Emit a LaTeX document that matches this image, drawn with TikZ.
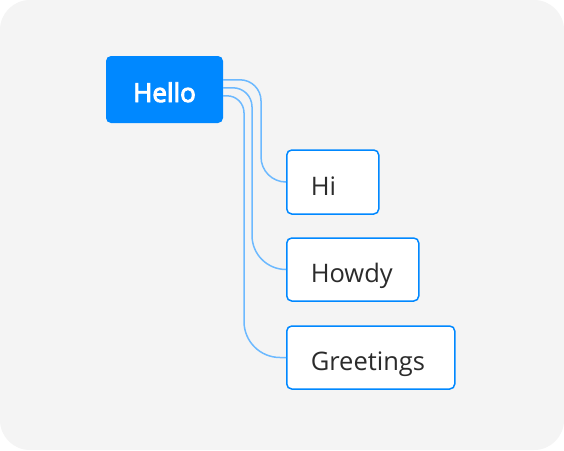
\documentclass[tikz,border=0pt]{standalone}
\usepackage{fontspec}
\setmainfont{Open Sans}
\newfontfamily\heavyish[FakeBold=3.5]{Open Sans}
\usetikzlibrary{calc}
\definecolor{panel}{HTML}{F4F4F4}
\definecolor{accent}{HTML}{0088FF}
\definecolor{wire}{HTML}{6CB9FF}
\definecolor{ink}{HTML}{2B2B2B}
\tikzset{
  rootbox/.style={fill=accent, draw=none, rounded corners=5pt, minimum width=117pt,
    minimum height=67pt, inner sep=0pt, text height=25pt, text depth=0pt, text=white,
    font=\heavyish\fontsize{26}{30}\selectfont},
  leafbox/.style={fill=white, draw=accent, line width=1.5pt, rounded corners=5pt,
    minimum height=63pt, inner xsep=24pt, inner ysep=0pt, align=left, anchor=west,
    text height=26pt, text depth=0pt, text=ink, font=\fontsize{25.5}{30}\selectfont},
  conn/.style={draw=wire, line width=1.5pt}
}
\begin{document}
\begin{tikzpicture}[x=1pt,y=1pt]
  % canvas
  \fill[white] (0,0) rectangle (564,-450);
  \fill[panel, rounded corners=30pt] (0,0) rectangle (564,-450);
  \useasboundingbox (0,0) rectangle (564,-450);

  % nodes
  \node[rootbox] (hello) at (164.5,-89.5) {Hello};
  \node[leafbox, minimum width=92pt, minimum height=64pt, text width=44pt] (hi) at (286,-182) {Hi};
  \node[leafbox, minimum width=132pt, text width=84pt] (howdy) at (286,-269.5) {Howdy};
  \node[leafbox, minimum width=168pt, text width=120pt] (greet) at (286,-357.5) {Greetings};

  % branches: top bend, vertical run, bottom bend into the child
  \draw[conn] let \p1=([yshift=-24pt]hello.north east), \p2=(hi.west) in
    (\p1) -- (\x2-25pt-21pt,\y1) arc[start angle=90,end angle=0,radius=21pt]
    -- (\x2-25pt,\y2+25pt) arc[start angle=180,end angle=270,radius=25pt] -- (\p2);
  \draw[conn] let \p1=([yshift=-32pt]hello.north east), \p2=(howdy.west) in
    (\p1) -- (\x2-34pt-19pt,\y1) arc[start angle=90,end angle=0,radius=19pt]
    -- (\x2-34pt,\y2+34pt) arc[start angle=180,end angle=270,radius=34pt] -- (\p2);
  \draw[conn] let \p1=([yshift=-40pt]hello.north east), \p2=(greet.west) in
    (\p1) -- (\x2-42pt-17pt,\y1) arc[start angle=90,end angle=0,radius=17pt]
    -- (\x2-42pt,\y2+36pt) arc[start angle=180,end angle=270,radius=36pt] -- (\p2);
\end{tikzpicture}
\end{document}
